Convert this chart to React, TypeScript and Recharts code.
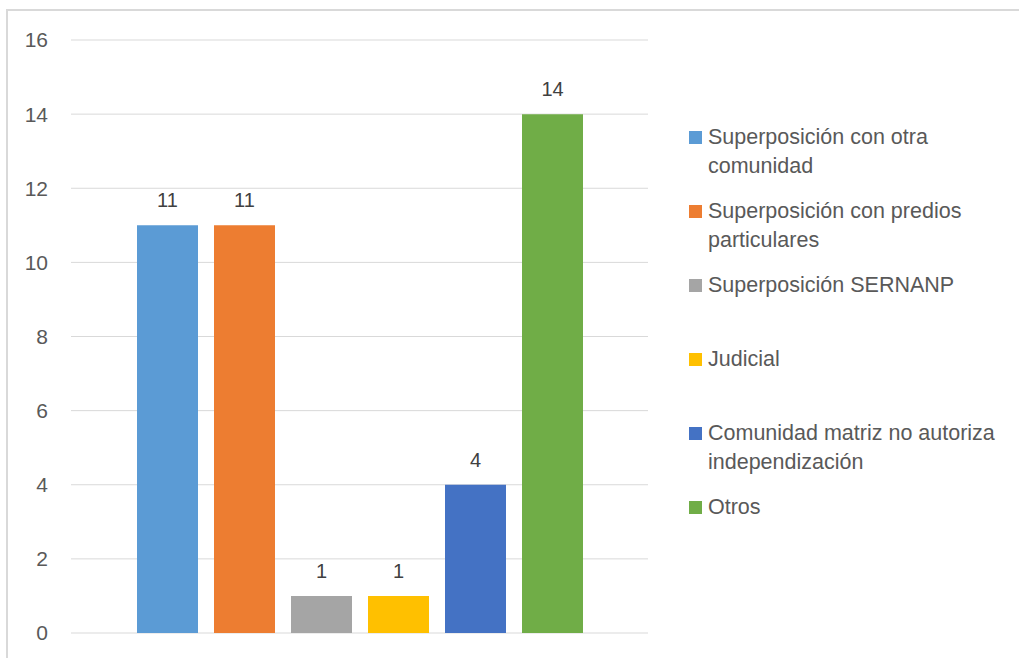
import { Bar, BarChart, CartesianGrid, LabelList, Legend, XAxis, YAxis } from "recharts";

const categories = [
  "Superposición con otra comunidad",
  "Superposición con predios particulares",
  "Superposición SERNANP",
  "Judicial",
  "Comunidad matriz no autoriza independización",
  "Otros",
];
const values = [11, 11, 1, 1, 4, 14];
const colors = ["#5B9BD5", "#ED7D31", "#A5A5A5", "#FFC000", "#4472C4", "#70AD47"];
const yTicks = [0, 2, 4, 6, 8, 10, 12, 14, 16];

const row: Record<string, number | string> = { name: "" };
categories.forEach((c, i) => {
  row[`s${i}`] = values[i];
});
const data = [row];

const FONT = "'Liberation Sans', Arial, sans-serif";

function LegendBox() {
  return (
    <div style={{ fontFamily: FONT, fontSize: 21.5, color: "#595959", lineHeight: "29px" }}>
      {categories.map((c, i) => (
        <div key={c} style={{ height: 74, display: "flex", alignItems: "flex-start" }}>
          <span
            style={{
              width: 13,
              height: 13,
              background: colors[i],
              flex: "0 0 auto",
              marginTop: 8,
              marginRight: 6,
            }}
          />
          <span style={{ width: 308 }}>{c}</span>
        </div>
      ))}
    </div>
  );
}

export default function App() {
  return (
    <div
      style={{
        position: "fixed",
        left: 0,
        top: 0,
        width: 1019,
        height: 658,
        background: "#fff",
        overflow: "hidden",
      }}
    >
      <div
        style={{
          position: "absolute",
          left: 6,
          top: 9,
          width: 1100,
          height: 700,
          borderLeft: "2px solid #D9D9D9",
          borderTop: "2px solid #D9D9D9",
        }}
      />
      <BarChart
        width={1019}
        height={658}
        data={data}
        margin={{ top: 40, right: 41, bottom: 25, left: 0 }}
        barGap={16}
        barSize={61}
        style={{ position: "absolute", left: 0, top: 0 }}
      >
        <CartesianGrid vertical={false} stroke="#D9D9D9" />
        <XAxis dataKey="name" tick={false} height={0} axisLine={{ stroke: "#D9D9D9" }} tickLine={false} />
        <YAxis
          width={71}
          domain={[0, 16]}
          ticks={yTicks}
          interval={0}
          axisLine={false}
          tickLine={false}
          tickSize={6}
          tickMargin={17}
          tick={{ fontFamily: FONT, fontSize: 21, fill: "#595959" }}
        />
        <Legend
          layout="vertical"
          align="right"
          verticalAlign="top"
          width={330}
          wrapperStyle={{ left: 689, top: 123, width: 330 }}
          content={() => <LegendBox />}
        />
        {categories.map((c, i) => (
          <Bar key={c} dataKey={`s${i}`} name={c} fill={colors[i]} isAnimationActive={false}>
            <LabelList
              dataKey={`s${i}`}
              position="top"
              offset={18}
              style={{ fontFamily: FONT, fontSize: 20, fill: "#404040" }}
            />
          </Bar>
        ))}
      </BarChart>
    </div>
  );
}
